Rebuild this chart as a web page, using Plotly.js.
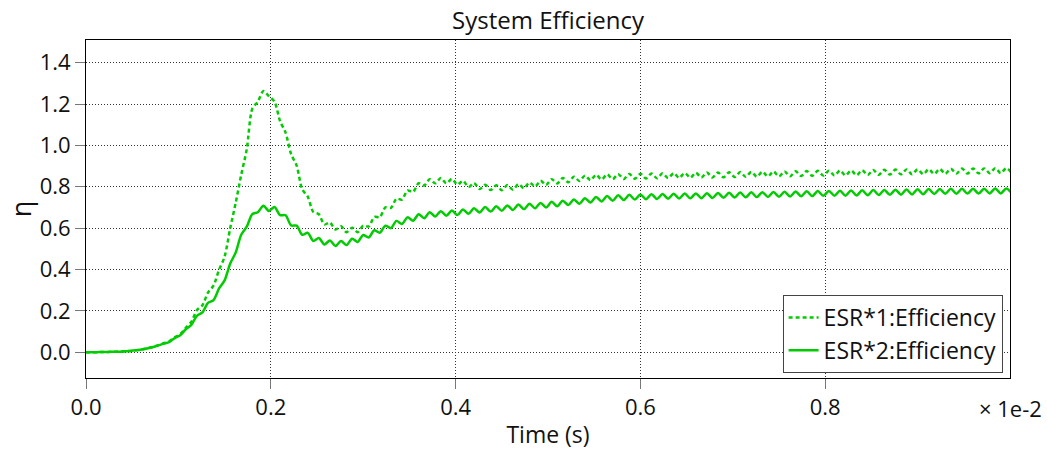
<!DOCTYPE html>
<html>
<head>
<meta charset="utf-8">
<script src="https://cdn.plot.ly/plotly-3.0.1.min.js"></script>
<style>html,body{margin:0;padding:0;background:#fff;}#chart{width:1047px;height:453px;}</style>
</head>
<body>
<div id="chart"></div>
<script>
// Time samples step (units of 1e-2 s)
const timeStep = 0.006;

// ESR*1:Efficiency (dotted)
const esr1Efficiency = [
0,0,0,0.001,0.001,0.002,0.003,0.004,0.006,0.009,
0.013,0.018,0.025,0.033,0.043,0.052,0.072,0.087,0.118,0.147,
0.203,0.227,0.288,0.322,0.398,0.462,0.598,0.722,0.858,0.982,
1.178,1.212,1.263,1.238,1.212,1.118,1.062,0.958,0.902,0.788,
0.752,0.678,0.667,0.618,0.627,0.593,0.609,0.580,0.602,0.580,
0.612,0.608,0.654,0.653,0.700,0.698,0.742,0.738,0.782,0.775,
0.817,0.806,0.837,0.817,0.842,0.817,0.838,0.810,0.829,0.799,
0.818,0.789,0.810,0.784,0.807,0.783,0.808,0.786,0.813,0.793,
0.821,0.801,0.829,0.809,0.837,0.816,0.843,0.822,0.849,0.828,
0.854,0.832,0.858,0.835,0.860,0.837,0.861,0.838,0.862,0.839,
0.863,0.840,0.864,0.841,0.865,0.842,0.866,0.843,0.867,0.844,
0.868,0.845,0.869,0.845,0.869,0.846,0.870,0.847,0.871,0.848,
0.872,0.849,0.873,0.850,0.874,0.850,0.874,0.851,0.875,0.852,
0.876,0.853,0.877,0.854,0.878,0.855,0.879,0.855,0.879,0.856,
0.880,0.857,0.881,0.858,0.882,0.859,0.883,0.860,0.884,0.860,
0.884,0.861,0.885,0.862,0.886,0.863,0.887,0.864,0.888,0.864,
0.888,0.865,0.889,0.866,0.890,0.866,0.890,0.866
];

// ESR*2:Efficiency (solid)
const esr2Efficiency = [
0,0,0,0.001,0.001,0.002,0.002,0.004,0.006,0.009,
0.013,0.018,0.024,0.032,0.041,0.049,0.068,0.082,0.111,0.132,
0.176,0.192,0.238,0.252,0.308,0.347,0.428,0.482,0.568,0.607,
0.668,0.677,0.708,0.683,0.702,0.663,0.662,0.613,0.612,0.568,
0.577,0.538,0.552,0.521,0.540,0.513,0.538,0.518,0.549,0.533,
0.567,0.555,0.590,0.578,0.612,0.600,0.635,0.620,0.652,0.636,
0.667,0.648,0.677,0.656,0.682,0.660,0.685,0.663,0.690,0.669,
0.696,0.675,0.702,0.680,0.706,0.684,0.710,0.688,0.714,0.692,
0.718,0.696,0.722,0.700,0.727,0.706,0.733,0.712,0.739,0.718,
0.745,0.724,0.751,0.729,0.755,0.733,0.759,0.736,0.761,0.738,
0.763,0.740,0.764,0.741,0.765,0.742,0.766,0.743,0.767,0.744,
0.768,0.745,0.769,0.746,0.770,0.747,0.771,0.748,0.772,0.749,
0.773,0.750,0.774,0.751,0.775,0.752,0.776,0.753,0.777,0.754,
0.778,0.755,0.779,0.756,0.780,0.757,0.781,0.757,0.782,0.758,
0.783,0.759,0.784,0.760,0.785,0.761,0.786,0.762,0.787,0.763,
0.788,0.764,0.789,0.765,0.789,0.766,0.790,0.766,0.790,0.767,
0.791,0.767,0.791,0.768,0.792,0.768,0.792,0.768
];

const seriesNames = ['ESR*1:Efficiency', 'ESR*2:Efficiency'];
const yTickValues = [0, 0.2, 0.4, 0.6, 0.8, 1.0, 1.2, 1.4];
const xTickValues = [0, 0.2, 0.4, 0.6, 0.8];

const time1 = esr1Efficiency.map((_, i) => i * timeStep);
const time2 = esr2Efficiency.map((_, i) => i * timeStep);

const green = 'rgb(0,204,0)';
const fontFamily = '"Open Sans", Roboto, sans-serif';

const traces = [
  {x: time1, y: esr1Efficiency, name: seriesNames[0], type: 'scatter', mode: 'lines',
   line: {color: green, width: 2.5, dash: '4px,3px', shape: 'spline', smoothing: 0.8}},
  {x: time2, y: esr2Efficiency, name: seriesNames[1], type: 'scatter', mode: 'lines',
   line: {color: green, width: 2.5, shape: 'spline', smoothing: 0.8}}
];

const layout = {
  width: 1047, height: 453,
  margin: {l: 86, r: 37, t: 40, b: 75},
  paper_bgcolor: '#fff', plot_bgcolor: '#fff',
  font: {family: fontFamily, color: '#111', size: 22},
  title: {text: 'System Efficiency', font: {size: 24, color: '#111'}, x: 0.5, xref: 'paper', xanchor: 'center',
          y: 0.955, yanchor: 'middle', yref: 'container'},
  showlegend: true,
  legend: {x: 0.992, y: 0.015, xanchor: 'right', yanchor: 'bottom', bgcolor: '#fff',
           bordercolor: '#444', borderwidth: 1, font: {size: 23, color: '#111'}, tracegroupgap: 0},
  xaxis: {
    range: [0, 1.0], tickvals: xTickValues, tickformat: '.1f',
    showgrid: true, gridcolor: '#333', gridwidth: 1, griddash: '1px,2px',
    zeroline: false, showline: true, linecolor: '#000', linewidth: 1, mirror: true,
    ticks: 'outside', ticklen: 10, tickcolor: '#777', tickwidth: 1,
    tickfont: {size: 22, color: '#111'},
    title: {text: 'Time (s)', font: {size: 23, color: '#111'}, standoff: 6}
  },
  yaxis: {
    range: [-0.125, 1.51], tickvals: yTickValues, tickformat: '.1f',
    showgrid: true, gridcolor: '#333', gridwidth: 1, griddash: '1px,2px',
    zeroline: false, showline: true, linecolor: '#000', linewidth: 1, mirror: true,
    ticks: 'outside', ticklen: 10, tickcolor: '#777', tickwidth: 1,
    tickfont: {size: 22, color: '#111'},
    title: {text: 'η', font: {size: 27, color: '#111'}, standoff: 0}
  },
  annotations: [{
    text: '× 1e-2', xref: 'x', yref: 'paper', x: 1.0, y: -0.09, xanchor: 'center', yanchor: 'middle',
    showarrow: false, font: {size: 22, color: '#111'}
  }]
};

Plotly.newPlot('chart', traces, layout, {displayModeBar: false, staticPlot: true});
</script>
</body>
</html>
